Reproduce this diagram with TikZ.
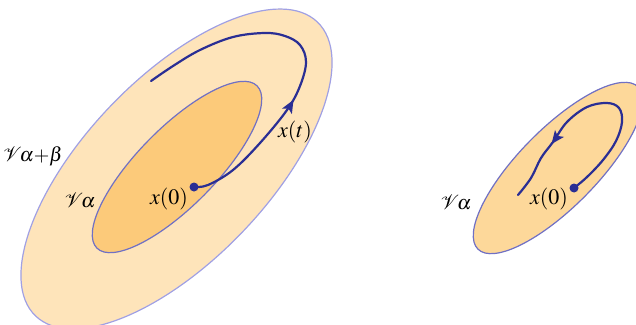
\documentclass[tikz,border=0pt]{standalone}
\usepackage{mathptmx}
\usepackage{mathrsfs}
\usetikzlibrary{decorations.markings,arrows.meta}
\definecolor{outerfill}{RGB}{254,228,186}
\definecolor{innerfill}{RGB}{252,202,122}
\definecolor{rightfill}{RGB}{253,216,154}
\definecolor{outerline}{RGB}{160,160,228}
\definecolor{innerline}{RGB}{112,112,196}
\definecolor{traj}{RGB}{42,46,148}
\begin{document}
\begin{tikzpicture}[x=1pt,y=-1pt,
  region/.style={line width=1.2pt},
  trajline/.style={draw=traj,line width=2.2pt,line cap=round},
  startdot/.style={circle,fill=traj,inner sep=0pt,minimum size=9pt},
  lab/.style={inner sep=0pt,font=\fontsize{22}{26}\selectfont},
  vlab/.style={inner sep=0pt,font=\fontsize{20}{24}\selectfont},
  midarrow/.style={postaction={decorate},decoration={markings,
    mark=at position #1 with {\arrow{Stealth[length=13pt,width=11pt,inset=3pt]}}}}]
\useasboundingbox (0,0) rectangle (636,324);
% regions
\filldraw[fill=outerfill,draw=outerline,region,rotate around={46.2:(176.5,169)}]
  (176.5,169) ellipse (203.6 and 91.2);
\filldraw[fill=innerfill,draw=innerline,region,rotate around={45.4:(177,167)}]
  (177,167) ellipse (114 and 39);
\filldraw[fill=rightfill,draw=innerline,region,rotate around={45.4:(558,168)}]
  (558,168) ellipse (114 and 39);
% start points
\node[startdot] (x0L) at (194,187) {};
\node[startdot] (x0R) at (574,188) {};
% trajectories
\draw[trajline,midarrow=0.38] plot[smooth,tension=0.6] coordinates
  {(194,187) (208,185) (233,170) (260,143) (287,110) (300,86) (306,62) (300,45) (285,36) (265,33) (233,37) (200,50) (173,66) (151,81)};
\draw[trajline,midarrow=0.75] plot[smooth,tension=0.6] coordinates
  {(574,188) (587,177) (603,160) (616,141) (622,122) (619,108) (607,103) (587,107) (567,122) (553,142) (541,158) (531,178) (518,195)};
% labels
\node[vlab] (VabL) at (33,156) {$\mathscr{V}\!\alpha{+}\beta$};
\node[vlab] (VaL) at (80,200) {$\mathscr{V}\!\alpha$};
\node[lab] (x0Llab) at (169,199) {$x(0)$};
\node[lab] (xtL) at (295,132) {$x(t)$};
\node[vlab] (VaR) at (456,202) {$\mathscr{V}\!\alpha$};
\node[lab] (x0Rlab) at (549,199) {$x(0)$};
\end{tikzpicture}
\end{document}
